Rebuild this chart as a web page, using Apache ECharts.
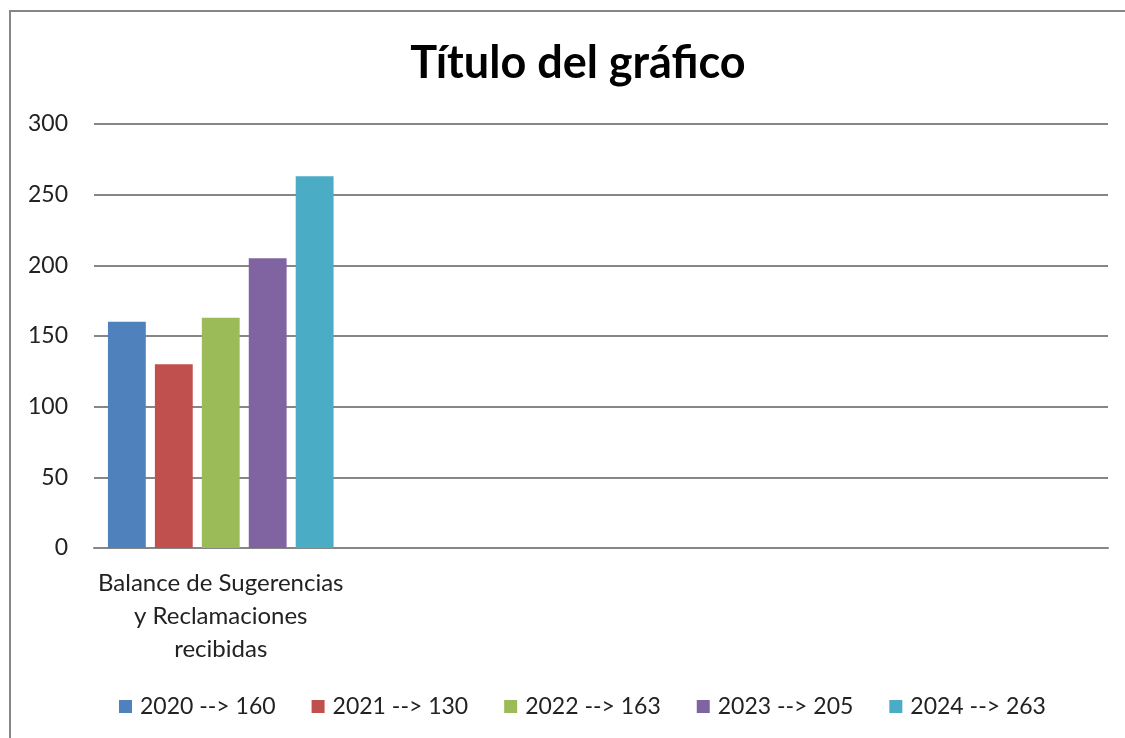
<!DOCTYPE html>
<html>
<head>
    <meta charset="utf-8">
    <script src="https://cdn.jsdelivr.net/npm/echarts@6/dist/echarts.min.js"></script>
    <style>
        body { margin: 0; background: #fff; }
    </style>
</head>
<body>
<div id="chart" style="width:1125px;height:738px"></div>
<script>
    // datos
    var categories = ['Balance de Sugerencias\ny Reclamaciones\nrecibidas', '', '', ''];
    var seriesNames = ['2020 --> 160', '2021 --> 130', '2022 --> 163', '2023 --> 205', '2024 --> 263'];
    var seriesValues = [160, 130, 163, 205, 263];
    var colors = ['#4F81BD', '#C0504D', '#9BBB59', '#8064A2', '#4BACC6'];
    var yTicks = [0, 50, 100, 150, 200, 250, 300];

    var font = 'Lato';
    var myChart = echarts.init(document.getElementById('chart'));

    var series = [];
    for (var i = 0; i < seriesNames.length; i++) {
        series.push({
            name: seriesNames[i],
            type: 'bar',
            data: [seriesValues[i], null, null, null],
            barGap: '24%',
            barCategoryGap: '11%',
            itemStyle: { color: colors[i] }
        });
    }

    var option = {
        animation: false,
        color: colors,
        title: {
            text: 'Título del gráfico',
            left: 573,
            top: 36,
            textAlign: 'center',
            textStyle: { fontFamily: font, fontSize: 45, fontWeight: 'bold', color: '#000' }
        },
        graphic: [{
            type: 'rect',
            shape: { x: 10, y: 11, width: 1200, height: 800 },
            style: { fill: null, stroke: '#868686', lineWidth: 2 },
            silent: true
        }],
        legend: {
            left: 114,
            top: 690,
            itemWidth: 13,
            itemHeight: 13,
            itemGap: 36,
            icon: 'rect',
            textStyle: { fontFamily: font, fontSize: 23, color: '#222', padding: [0, 0, 0, 3] }
        },
        grid: {
            left: 94,
            right: 17,
            top: 124,
            bottom: 190,
            containLabel: false
        },
        xAxis: {
            type: 'category',
            data: categories,
            axisLine: { lineStyle: { color: '#868686', width: 2 } },
            axisTick: { show: false },
            axisLabel: {
                fontFamily: font, fontSize: 24, color: '#222',
                lineHeight: 33, margin: 19, interval: 0
            }
        },
        yAxis: {
            type: 'value',
            min: yTicks[0],
            max: yTicks[yTicks.length - 1],
            interval: 50,
            axisLine: { show: false },
            axisTick: { show: false },
            splitLine: { lineStyle: { color: '#868686', width: 2 } },
            axisLabel: { fontFamily: font, fontSize: 23, color: '#222', margin: 26 }
        },
        series: series
    };
    myChart.setOption(option);
</script>
</body>
</html>
